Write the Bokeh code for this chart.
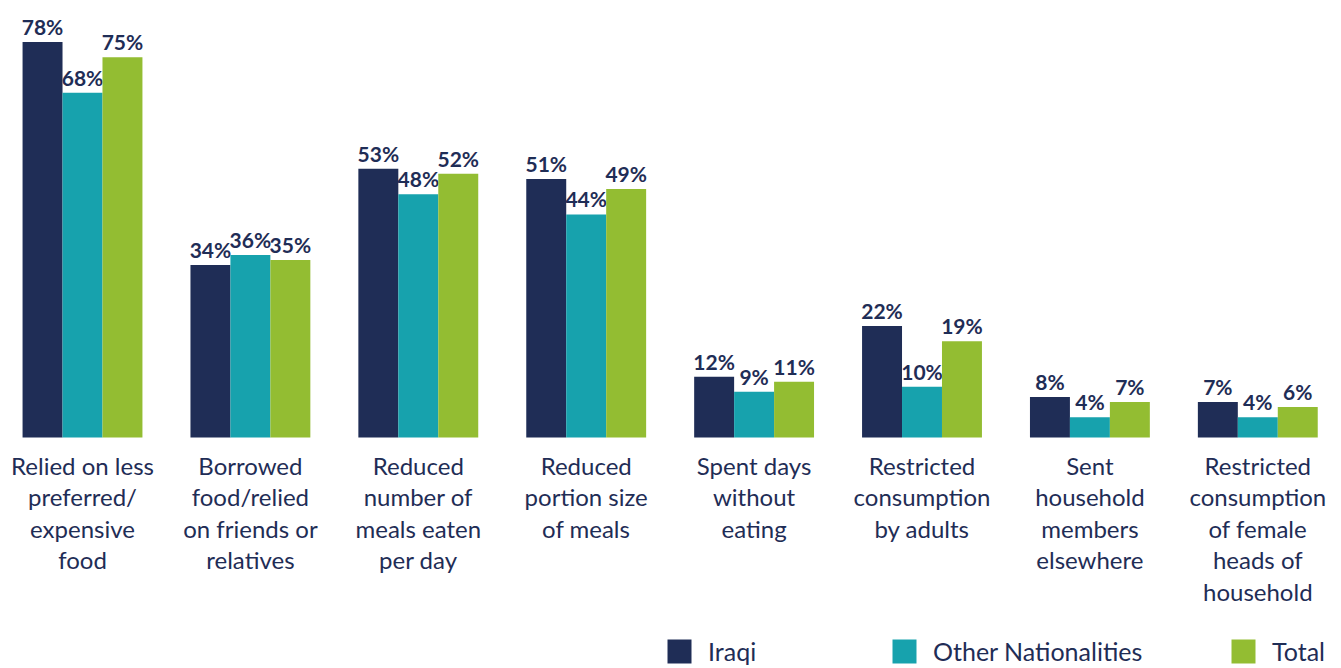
from bokeh.plotting import figure
from bokeh.models import ColumnDataSource, Range1d, Legend, LegendItem
from bokeh.core.properties import value
from bokeh.embed import file_html
from bokeh.resources import INLINE

categories = [
    "Relied on less\npreferred/\nexpensive\nfood",
    "Borrowed\nfood/relied\non friends or\nrelatives",
    "Reduced\nnumber of\nmeals eaten\nper day",
    "Reduced\nportion size\nof meals",
    "Spent days\nwithout\neating",
    "Restricted\nconsumption\nby adults",
    "Sent\nhousehold\nmembers\nelsewhere",
    "Restricted\nconsumption\nof female\nheads of\nhousehold",
]
series_names = ["Iraqi", "Other Nationalities", "Total"]
iraqi = [78, 34, 53, 51, 12, 22, 8, 7]
other = [68, 36, 48, 44, 9, 10, 4, 4]
total = [75, 35, 52, 49, 11, 19, 7, 6]
colors = ["#1f2d56", "#17a2ad", "#93bd32"]
text_color = "#1f2d56"
FONT = "Lato"

W, H = 1341, 668
p = figure(width=W, height=H, output_backend="svg", toolbar_location=None,
           x_range=Range1d(-0.4884, 7.4985), y_range=Range1d(-45.56, 86.19),
           min_border=0, min_border_left=0, min_border_right=0,
           min_border_top=0, min_border_bottom=0)
p.xaxis.visible = False
p.yaxis.visible = False
p.xgrid.visible = False
p.ygrid.visible = False
p.outline_line_color = None
p.background_fill_color = "white"

bw = 0.238
xs = list(range(len(categories)))
renderers = []
for k, (vals, col) in enumerate(zip([iraqi, other, total], colors)):
    off = (k - 1) * bw
    src = ColumnDataSource(dict(x=[i + off for i in xs], top=vals,
                                lab=[f"{v}%" for v in vals]))
    r = p.vbar(x="x", top="top", bottom=0, width=bw, source=src,
               fill_color=col, line_color=None)
    renderers.append(r)
    p.text(x="x", y="top", text="lab", source=src, text_align="center",
           text_baseline="bottom", y_offset=-3, text_color=text_color,
           text_font=value(FONT), text_font_style="bold",
           text_font_size="21px")

csrc = ColumnDataSource(dict(x=xs, y=[0] * len(xs), t=categories))
p.text(x="x", y="y", text="t", source=csrc, text_align="center",
       text_baseline="top", y_offset=13, text_color=text_color,
       text_font=value(FONT), text_font_size="24px", text_line_height=1.09)

legend_x = [664, 889, 1228]
for name, r, lx in zip(series_names, renderers, legend_x):
    lg = Legend(items=[LegendItem(label=name, renderers=[r])],
                location=(lx, 2), orientation="horizontal",
                glyph_width=30, glyph_height=30, label_standoff=14,
                padding=0, margin=0, border_line_color=None,
                background_fill_alpha=0, label_text_font=FONT,
                label_text_font_size="25px", label_text_color=text_color,
                label_height=30)
    p.add_layout(lg, "center")

open("out.html", "w").write(file_html(p, INLINE))
